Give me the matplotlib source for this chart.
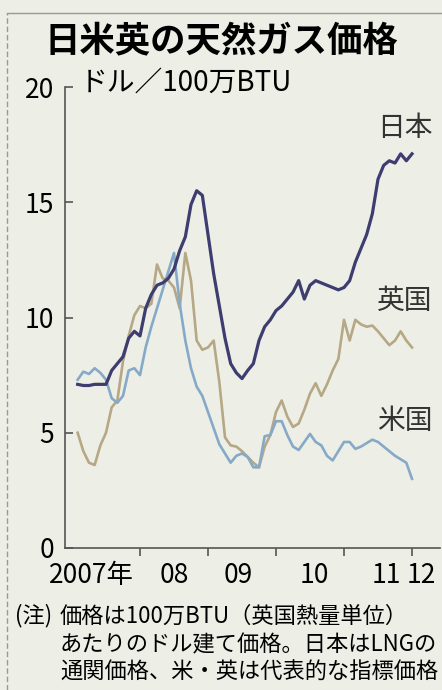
import numpy as np
import matplotlib as mpl

mpl.use('Agg')
import matplotlib.pyplot as plt
from matplotlib.lines import Line2D

plt.rcParams['font.family'] = ['Noto Sans CJK JP', 'DejaVu Sans']

# monthly prices, $ per million BTU, Feb 2007 .. Jan 2012
japan = [7.1, 7.05, 7.05, 7.1, 7.1, 7.1, 7.7, 8.0, 8.3, 9.1, 9.4, 9.2,
         10.4, 11.0, 11.4, 11.5, 11.7, 12.1, 12.9, 13.5, 14.9, 15.5, 15.3, 13.6,
         11.9, 10.5, 9.1, 8.0, 7.6, 7.35, 7.7, 8.0, 9.0, 9.6, 9.9, 10.3,
         10.5, 10.8, 11.1, 11.6, 10.8, 11.4, 11.6, 11.5, 11.4, 11.3, 11.2, 11.3,
         11.6, 12.4, 13.0, 13.6, 14.5, 16.0, 16.6, 16.8, 16.7, 17.1, 16.8, 17.1]
uk = [5.0, 4.2, 3.7, 3.6, 4.45, 5.0, 6.1, 6.4, 8.1, 9.2, 10.1, 10.5,
      10.4, 10.6, 12.3, 11.7, 11.6, 11.3, 10.4, 12.8, 11.6, 9.0, 8.6, 8.7,
      9.0, 7.2, 4.8, 4.45, 4.4, 4.2, 3.95, 3.7, 3.5, 4.4, 4.9, 5.9,
      6.4, 5.7, 5.25, 5.4, 6.0, 6.7, 7.15, 6.6, 7.1, 7.7, 8.2, 9.9,
      9.0, 9.9, 9.7, 9.6, 9.65, 9.4, 9.1, 8.8, 9.0, 9.4, 9.0, 8.7]
us = [7.3, 7.65, 7.55, 7.8, 7.6, 7.3, 6.5, 6.3, 6.6, 7.7, 7.8, 7.5,
      8.7, 9.6, 10.4, 11.2, 12.0, 12.8, 10.6, 9.0, 7.8, 7.0, 6.6, 5.9,
      5.2, 4.5, 4.1, 3.7, 4.0, 4.1, 3.95, 3.5, 3.5, 4.85, 4.9, 5.5,
      5.5, 4.9, 4.4, 4.25, 4.6, 4.95, 4.6, 4.45, 4.0, 3.8, 4.2, 4.6,
      4.6, 4.3, 4.4, 4.55, 4.7, 4.6, 4.4, 4.2, 4.0, 3.85, 3.7, 3.0]

year_labels = ['2007年', '08', '09', '10', '11', '12']
year_label_pos = [2007.28, 2008.51, 2009.44, 2010.56, 2011.62, 2012.13]
yticks = [0, 5, 10, 15, 20]

t = 2007 + np.arange(1, len(japan) + 1) / 12.0

bg = '#edefe6'
c_japan = '#3d3d70'
c_uk = '#b6a785'
c_us = '#86a9c8'

fig = plt.figure(figsize=(4.42, 6.9), dpi=100, facecolor=bg)
ax = fig.add_axes([65 / 442, 142 / 690, 375 / 442, 461 / 690])
ax.set_facecolor(bg)

ax.plot(t, uk, color=c_uk, linewidth=1.9)
ax.plot(t, us, color=c_us, linewidth=1.9)
ax.plot(t, japan, color=c_japan, linewidth=2.3)

ax.set_xlim(2007 - 7 / 68, 2007 + 368 / 68)
ax.set_ylim(0, 20)

for s in ['top', 'right']:
    ax.spines[s].set_visible(False)
for s in ['left', 'bottom']:
    ax.spines[s].set_color('#555555')
    ax.spines[s].set_linewidth(1.2)

ax.set_yticks(yticks)
ax.set_yticklabels([str(v) for v in yticks], fontsize=19)
ax.tick_params(axis='y', direction='in', length=6, width=1.2, color='#555555', pad=8)
ax.get_yticklabels()[0].set_va('center_baseline')

ax.set_xticks([2008, 2009, 2010, 2011, 2012])
ax.set_xticklabels([])
ax.tick_params(axis='x', which='major', direction='out', length=6, width=1.2, color='#555555')
ax.set_xticks(year_label_pos, minor=True)
ax.set_xticklabels(year_labels, minor=True, fontsize=19)
ax.tick_params(axis='x', which='minor', length=0, pad=10)

# series names at the right end
ax.text(2012.3, 18.2, '日本', fontsize=20, color='#333333', ha='right', va='center')
ax.text(2012.3, 10.7, '英国', fontsize=20, color='#333333', ha='right', va='center')
ax.text(2012.3, 5.5, '米国', fontsize=20, color='#333333', ha='right', va='center')

fig.text(0.5, (690 - 41) / 690, '日米英の天然ガス価格', fontsize=25.5, fontweight='bold',
         ha='center', va='center')
fig.text(80 / 442, (690 - 83) / 690, 'ドル／100万BTU', fontsize=20, ha='left', va='center')

note_y = [616, 645, 672]
fig.text(15 / 442, (690 - note_y[0]) / 690, '(注)', fontsize=16, ha='left', va='center')
fig.text(60 / 442, (690 - note_y[0]) / 690, '価格は100万BTU（英国熱量単位）', fontsize=16,
         ha='left', va='center')
fig.text(60 / 442, (690 - note_y[1]) / 690, 'あたりのドル建て価格。日本はLNGの', fontsize=16,
         ha='left', va='center')
fig.text(60 / 442, (690 - note_y[2]) / 690, '通関価格、米・英は代表的な指標価格', fontsize=16,
         ha='left', va='center')

# frame lines
fig.add_artist(Line2D([7 / 442, 1], [(690 - 13) / 690] * 2, color='#999999', linewidth=1))
fig.add_artist(Line2D([7 / 442] * 2, [0, (690 - 13) / 690], color='#999999', linewidth=1,
                      linestyle=(0, (4, 2))))

fig.savefig('out.png', dpi=100, facecolor=bg)
